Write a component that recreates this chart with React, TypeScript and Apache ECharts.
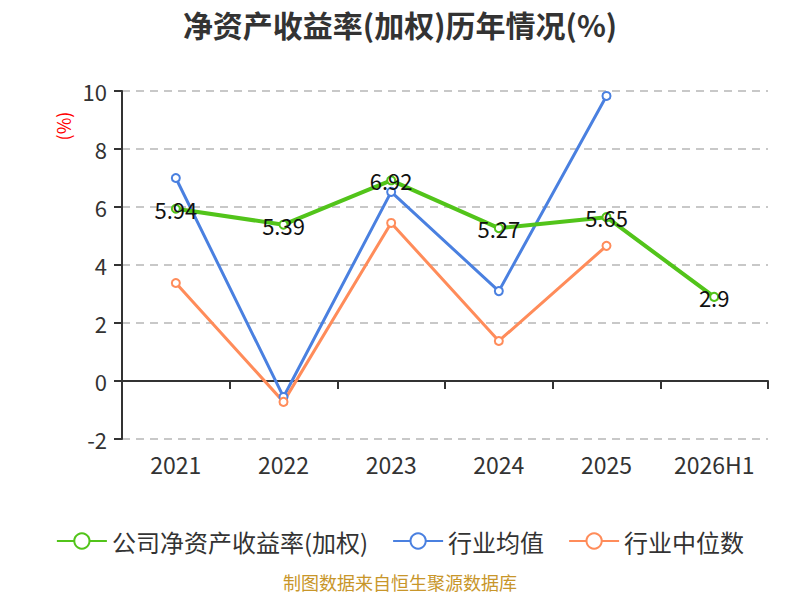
import React, { useEffect, useRef } from "react";
import * as echarts from "echarts";

const categories = ["2021", "2022", "2023", "2024", "2025", "2026H1"];
const companyRoe = [5.94, 5.39, 6.92, 5.27, 5.65, 2.9];
const industryAvg = [7.0, -0.55, 6.52, 3.1, 9.83, null];
const industryMedian = [3.38, -0.72, 5.45, 1.38, 4.66, null];
const yTicks = { min: -2, max: 10, interval: 2 };

export default function App() {
  const ref = useRef<HTMLDivElement>(null);
  useEffect(() => {
    if (!ref.current) return;
    const chart = echarts.init(ref.current, undefined, { renderer: "svg" });
    const font = "'Noto Sans CJK SC', 'Noto Sans', sans-serif";
    chart.setOption({
      animation: false,
      textStyle: { fontFamily: font },
      title: {
        text: "净资产收益率(加权)历年情况(%)",
        left: "center",
        top: 4,
        textStyle: { fontSize: 30, fontWeight: "bold", color: "#333", fontFamily: font },
      },
      graphic: [
        {
          type: "text",
          left: "center",
          top: 573,
          style: { text: "制图数据来自恒生聚源数据库", fill: "#c8962a", fontSize: 18, fontFamily: font },
        },
        {
          type: "text",
          x: 63,
          y: 126,
          rotation: Math.PI / 2,
          style: {
            text: "(%)",
            fill: "#ff0000",
            fontSize: 18,
            fontFamily: font,
            align: "center",
            verticalAlign: "middle",
          },
        },
      ],
      legend: {
        top: 524,
        left: "center",
        itemWidth: 50,
        itemHeight: 19,
        itemGap: 24,
        textStyle: { fontSize: 24, color: "#333", fontFamily: font },
        data: ["公司净资产收益率(加权)", "行业均值", "行业中位数"],
      },
      grid: { left: 122, right: 32, top: 91, bottom: 161 },
      xAxis: {
        type: "category",
        data: categories,
        boundaryGap: true,
        axisLine: { onZero: true, lineStyle: { color: "#333", width: 2 } },
        axisTick: { show: true, lineStyle: { color: "#333", width: 2 }, length: 8 },
        axisLabel: { fontSize: 23, color: "#333", margin: 13, fontFamily: font },
      },
      yAxis: {
        type: "value",
        min: yTicks.min,
        max: yTicks.max,
        interval: yTicks.interval,
        axisLine: { show: true, lineStyle: { color: "#333", width: 2 } },
        axisTick: { show: true, lineStyle: { color: "#333", width: 2 }, length: 8 },
        axisLabel: { fontSize: 22, color: "#333", margin: 15, fontFamily: font },
        splitLine: { show: true, lineStyle: { color: "#c8c8c8", type: [8, 6], width: 2 } },
      },
      series: [
        {
          name: "公司净资产收益率(加权)",
          type: "line",
          data: companyRoe,
          symbol: "emptyCircle",
          symbolSize: 8,
          color: "#52c41a",
          lineStyle: { width: 4, color: "#52c41a" },
          itemStyle: { color: "#52c41a", borderWidth: 2 },
          label: { show: true, position: "inside", fontSize: 22, color: "#111", fontFamily: font },
          z: 3,
        },
        {
          name: "行业均值",
          type: "line",
          data: industryAvg,
          symbol: "emptyCircle",
          symbolSize: 8,
          color: "#4a80e0",
          lineStyle: { width: 3, color: "#4a80e0" },
          itemStyle: { color: "#4a80e0", borderWidth: 2 },
          z: 2,
        },
        {
          name: "行业中位数",
          type: "line",
          data: industryMedian,
          symbol: "emptyCircle",
          symbolSize: 8,
          color: "#ff8c5a",
          lineStyle: { width: 3, color: "#ff8c5a" },
          itemStyle: { color: "#ff8c5a", borderWidth: 2 },
          z: 2,
        },
      ],
    });
    return () => chart.dispose();
  }, []);
  return <div ref={ref} style={{ width: 800, height: 600, margin: -8 }} />;
}
